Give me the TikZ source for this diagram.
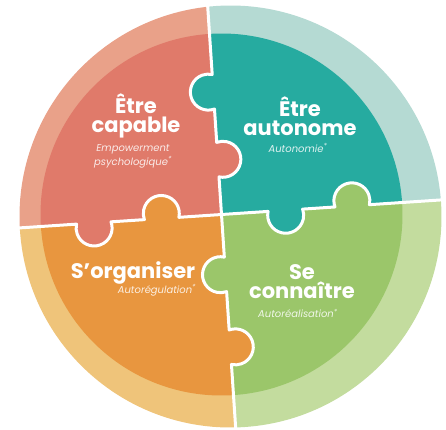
\documentclass[tikz,border=0pt]{standalone}
\usepackage{fontspec}
\setmainfont{Poppins}
\definecolor{redin}{HTML}{E07A6A}
\definecolor{redout}{HTML}{E9A189}
\definecolor{tealin}{HTML}{26ABA0}
\definecolor{tealout}{HTML}{B5DAD3}
\definecolor{orangein}{HTML}{E8963F}
\definecolor{orangeout}{HTML}{EFC47A}
\definecolor{greenin}{HTML}{9BC66A}
\definecolor{greenout}{HTML}{C3DC9E}
\tikzset{
  ttl/.style={text=white, font=\bfseries\fontsize{21}{19}\selectfont, align=center, inner sep=0pt},
  sub/.style={text=white, text opacity=.85, font=\itshape\fontsize{10}{14}\selectfont, align=center, inner sep=0pt},
  seam/.style={draw=white, line width=3pt, line join=round},
}
% knob of a piece, on the local u axis
\newcommand{\knobfill}[3]{\fill[#3] ({#1},{5*(#2)}) circle (18);}
\newcommand{\seamarm}[4]{\draw[seam] (0,0) -- ({#1-17.29},0)
  arc[start angle={180+16.13*(#2)}, delta angle={-212.26*(#2)}, radius=18] -- ({#3-17.29},0)
  arc[start angle={180+16.13*(#4)}, delta angle={-212.26*(#4)}, radius=18] -- (240,0);}
\begin{document}
\begin{tikzpicture}[x=1pt, y=1pt]
\useasboundingbox (-221.5,-214.5) rectangle (224.5,214.5);
\coordinate (oc) at (9,-2);
\begin{scope}[rotate=3.8]
\foreach \a/\cl/\cd in {0/tealout/tealin, 90/redout/redin, 180/orangeout/orangein, 270/greenout/greenin}
{
  \begin{scope}
    \clip[rotate=\a] (0,0) -- (250,0) -- (250,250) -- (0,250) -- cycle;
    \fill[\cl] (oc) circle (211);
    \fill[\cd] (0,0) circle (181);
  \end{scope}
}
% knobs
\foreach \r/\p/\ps/\pc/\q/\qs/\qc in {0/64/-1/tealin/131/1/greenin, 90/55/-1/redin/123/1/tealin,
  180/60/-1/orangein/128/1/redin, 270/60/-1/greenin/133/1/orangein}
{
  \begin{scope}[rotate=\r]
    \knobfill{\p}{\ps}{\pc}
    \knobfill{\q}{\qs}{\qc}
  \end{scope}
}
\foreach \r/\p/\ps/\q/\qs in {0/64/-1/131/1, 90/55/-1/123/1, 180/60/-1/128/1, 270/60/-1/133/1}
{
  \begin{scope}[rotate=\r]
    \seamarm{\p}{\ps}{\q}{\qs}
  \end{scope}
}
\end{scope}
% texts
\node[ttl] (capable) at (-85.5,98.5) {Être\\capable};
\node[sub] (empower) at (-88.5,58.5) {Empowerment\\psychologique\textsuperscript{*}};
\node[ttl] (autonome) at (78.5,98.5) {Être\\autonome};
\node[sub] (autonomie) at (76.5,66.5) {Autonomie\textsuperscript{*}};
\node[ttl] (organiser) at (-88.5,-58.5) {S’organiser};
\node[sub] (autoreg) at (-64.5,-76) {Autorégulation\textsuperscript{*}};
\node[ttl] (connaitre) at (80.5,-67.5) {Se\\connaître};
\node[sub] (autoreal) at (76.5,-99) {Autoréalisation\textsuperscript{*}};
\end{tikzpicture}
\end{document}
